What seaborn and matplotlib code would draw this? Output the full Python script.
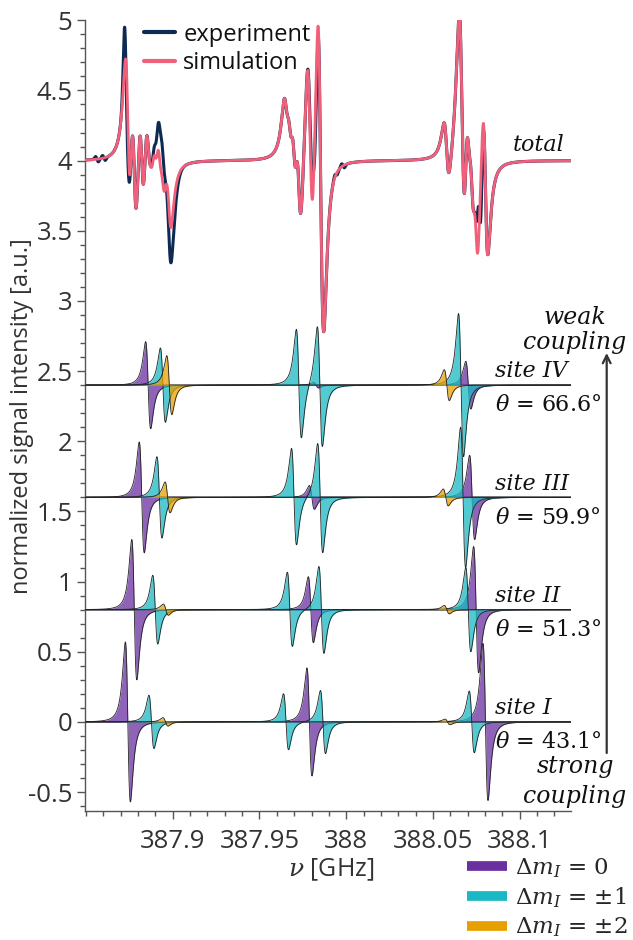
import numpy as np
import matplotlib
matplotlib.use('Agg')
import matplotlib.pyplot as plt
import seaborn as sns
from matplotlib.lines import Line2D
from matplotlib.ticker import MultipleLocator, FixedLocator

sns.set_theme(style='ticks')
plt.rcParams['font.family'] = ['Open Sans', 'DejaVu Sans']
plt.rcParams['mathtext.fontset'] = 'dejavuserif'
plt.rcParams['axes.unicode_minus'] = False

# ---- data (frequencies in GHz) ----
# individual sites: line centres, amplitudes, Delta m_I class
site_names = ['site IV', 'site III', 'site II', 'site I']
site_theta = ['66.6', '59.9', '51.3', '43.1']
site_offset = [2.4, 1.6, 0.8, 0.0]
site_pos = [
    [387.8858, 387.8943, 387.8980, 387.9727, 387.9826, 387.9848, 388.0580, 388.0662, 388.0704],
    [387.8821, 387.8923, 387.8970, 387.9699, 387.9802, 387.9850, 388.0574, 388.0674, 388.0726],
    [387.8778, 387.8899, 387.8960, 387.9675, 387.9796, 387.9857, 388.0580, 388.0704, 388.0749],
    [387.8741, 387.8877, 387.8958, 387.9653, 387.9788, 387.9866, 388.0584, 388.0724, 388.0803],
]
site_amp = [
    [0.31, 0.265, 0.21, 0.39, 0.02, 0.43, 0.11, 0.51, 0.17],
    [0.395, 0.29, 0.11, 0.345, 0.085, 0.39, 0.06, 0.50, 0.30],
    [0.50, 0.245, 0.04, 0.265, 0.235, 0.31, 0.03, 0.30, 0.45],
    [0.57, 0.19, 0.03, 0.20, 0.385, 0.225, 0.02, 0.22, 0.56],
]
site_dm = [0, 1, 2, 1, 0, 1, 2, 1, 0]
site_width = 0.0025

# total simulation = sum of the four sites
sim_scale = 1.0
sim_width = 0.0025
# experiment = simulation + residual lines (centre, amplitude, width)
res_pos = [387.8563, 387.8603, 387.8729, 387.8961, 387.9814, 387.9941, 387.9982, 388.0769]
res_amp = [0.02, 0.02, 0.30, 0.25, 0.20, 0.02, 0.02, 0.30]
res_wid = [0.0008, 0.0008, 0.00087, 0.0029, 0.00115, 0.0008, 0.0008, 0.00092]

dm_labels = [r'$\Delta m_I$ = 0', r'$\Delta m_I$ = $\pm$1', r'$\Delta m_I$ = $\pm$2']
dm_colors = ['#6a30a0', '#1ab8c4', '#e8a000']

x_ticks = [387.9, 387.95, 388.0, 388.05, 388.1]
x_ticklabels = ['387.9', '387.95', '388', '388.05', '388.1']
y_ticks = [-0.5, 0, 0.5, 1, 1.5, 2, 2.5, 3, 3.5, 4, 4.5, 5]
y_ticklabels = ['-0.5', '0', '0.5', '1', '1.5', '2', '2.5', '3', '3.5', '4', '4.5', '5']
total_offset = 4.0
xmin, xmax = 387.8494, 388.1298


def dlor(x, pos, amp, wid):
    # first derivative of a Lorentzian, positive lobe = amp
    u = (x[:, None] - np.asarray(pos)) / np.asarray(wid)
    return (np.asarray(amp) * (-2 * u / (1 + u ** 2) ** 2) / 0.6495).sum(axis=1)


def dgau(x, pos, amp, wid):
    # first derivative of a Gaussian, positive lobe = amp
    u = (x[:, None] - np.asarray(pos)) / np.asarray(wid)
    return (np.asarray(amp) * (-u * np.exp(-(u ** 2 - 1) / 2))).sum(axis=1)


nu = np.linspace(xmin, xmax, 8000)

fig = plt.figure(figsize=(6.33, 9.4), dpi=100)
ax = fig.add_axes([85 / 633, 1 - 811 / 940, (571.3 - 85) / 633, (811 - 20.3) / 940])

all_pos = np.concatenate(site_pos)
all_amp = np.concatenate(site_amp) * sim_scale
sim_y = total_offset + dlor(nu, all_pos, all_amp, np.full(all_pos.size, sim_width))
exp_y = sim_y + dgau(nu, res_pos, res_amp, res_wid)
sns.lineplot(x=nu, y=exp_y, color='#0f2a52', lw=2.2, ax=ax, zorder=5)
sns.lineplot(x=nu, y=sim_y, color='#f0607a', lw=2.0, ax=ax, zorder=6)

for s, name in enumerate(site_names):
    off = site_offset[s]
    pos = np.array(site_pos[s])
    amp = np.array(site_amp[s])
    ax.axhline(off, color='#555555', lw=1.1, zorder=1)
    for k in range(3):
        sel = np.array(site_dm) == k
        curve = dlor(nu, pos[sel], amp[sel], np.full(sel.sum(), site_width))
        ax.fill_between(nu, off, off + curve, color=dm_colors[k], alpha=0.75, lw=0, zorder=2 + k)
        ax.plot(nu, off + curve, color='#222222', lw=0.6, zorder=2 + k)
    ax.text(388.0858, off + 0.02, name, family='DejaVu Serif', style='italic',
            fontsize=16, ha='left', va='bottom', color='#111111')
    ax.text(388.0858, off - 0.145, r'$\theta$ = ' + site_theta[s] + '°', family='DejaVu Serif',
            fontsize=16, ha='left', va='center', color='#111111')

ax.text(388.0962, 4.11, 'total', family='DejaVu Serif', style='italic', fontsize=16,
        ha='left', va='center', color='#111111')

ax.set_xlim(xmin, xmax)
ax.set_ylim(-0.635, 5.0)
ax.xaxis.set_major_locator(FixedLocator(x_ticks))
ax.set_xticklabels(x_ticklabels)
ax.xaxis.set_minor_locator(MultipleLocator(0.01))
ax.yaxis.set_major_locator(FixedLocator(y_ticks))
ax.set_yticklabels(y_ticklabels)
ax.yaxis.set_minor_locator(MultipleLocator(0.1))
ax.tick_params(which='major', direction='out', length=6, width=1, color='#555555',
               labelsize=18.5, labelcolor='#333333')
ax.tick_params(axis='x', which='major', pad=7)
ax.tick_params(axis='y', which='major', pad=3)
ax.tick_params(which='minor', direction='out', length=3.5, width=1, color='#555555')
sns.despine(ax=ax)
for sp in ['left', 'bottom']:
    ax.spines[sp].set_color('#555555')
    ax.spines[sp].set_linewidth(1.0)
ax.set_xlabel(r'$\nu$ [GHz]', fontsize=18, color='#333333')
ax.xaxis.set_label_coords(0.506, -0.057)
ax.set_ylabel('normalized signal intensity [a.u.]', fontsize=17, color='#333333')
ax.yaxis.set_label_coords(-0.105, 0.5)

leg1 = ax.legend([Line2D([], [], color='#0f2a52', lw=3), Line2D([], [], color='#f0607a', lw=3)],
                 ['experiment', 'simulation'], loc='upper left', bbox_to_anchor=(0.122, 0.997),
                 frameon=False, fontsize=17, handlelength=1.3, handletextpad=0.35,
                 labelspacing=0.2, borderpad=0, borderaxespad=0)
for t in leg1.get_texts():
    t.set_color('#111111')

dm_handles = [Line2D([], [], color=c, lw=7, solid_capstyle='butt') for c in dm_colors]
leg2 = fig.legend(dm_handles, dm_labels, loc='upper left', bbox_to_anchor=(467 / 633, 1 - 856 / 940),
                  frameon=False, handlelength=1.75, handletextpad=0.35,
                  labelspacing=0.25, borderpad=0, borderaxespad=0,
                  prop={'family': 'DejaVu Serif', 'size': 16.5})

# coupling arrow and labels
ax.annotate('', xy=(606.7 / 633, 1 - 353 / 940), xytext=(606.7 / 633, 1 - 753 / 940),
            xycoords='figure fraction', textcoords='figure fraction',
            arrowprops=dict(arrowstyle='->', color='#333333', lw=1.6,
                            mutation_scale=14, shrinkA=0, shrinkB=0))
for txt, ypx in [('weak', 318), ('coupling', 343), ('strong', 767), ('coupling', 797)]:
    fig.text(575 / 633, 1 - ypx / 940, txt, family='DejaVu Serif', style='italic', fontsize=17,
             ha='center', va='center', color='#111111')

fig.savefig('out.png', dpi=100)
